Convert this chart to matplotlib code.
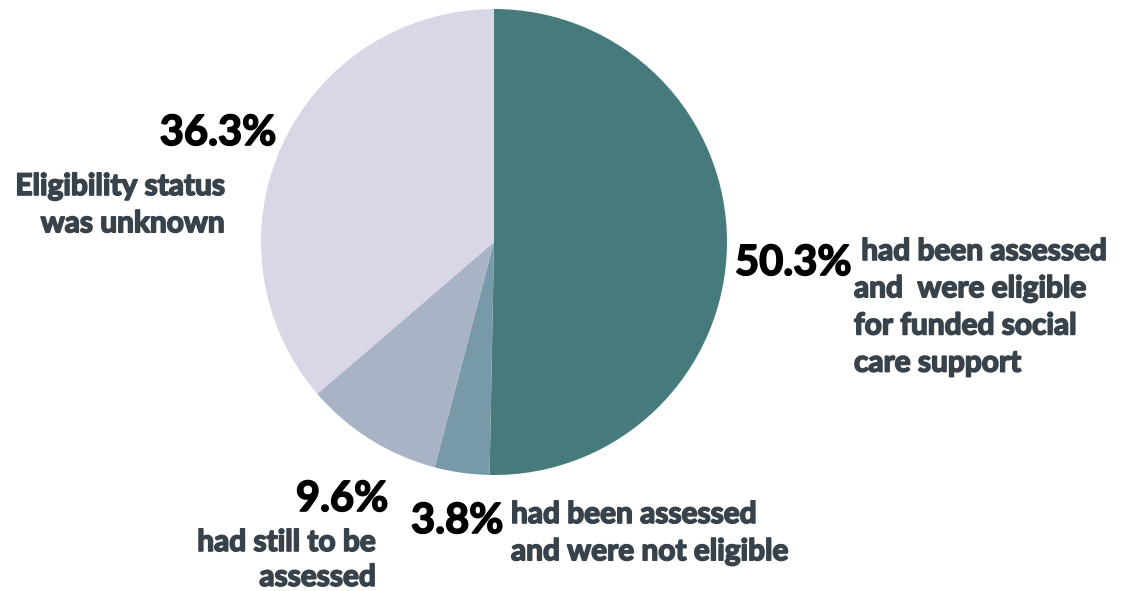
import matplotlib.pyplot as plt
import matplotlib.patheffects as pe
from matplotlib import font_manager

# Eligibility breakdown, clockwise from 12 o'clock
shares = [50.3, 3.8, 9.6, 36.3]
pct_labels = ["50.3%", "3.8%", "9.6%", "36.3%"]
descriptions = [
    " had been assessed\nand  were eligible\nfor funded social\ncare support",
    "had been assessed\nand were not eligible",
    "had still to be\nassessed",
    "Eligibility status\nwas unknown",
]
colors = ["#467A7B", "#7899A7", "#A8B3C5", "#D9D7E5"]

W, H = 1129, 591
fig = plt.figure(figsize=(W / 100, H / 100), dpi=100)
fig.patch.set_facecolor("white")

# pie axes placed in pixel terms: circle spans x 261..727, y 9..475
ax = fig.add_axes([261 / W, 1 - 475 / H, 466 / W, 466 / H])
ax.pie(shares, colors=colors, startangle=90, counterclock=False,
       wedgeprops=dict(linewidth=0))
ax.set_xlim(-1, 1)
ax.set_ylim(-1, 1)
ax.set_aspect("equal")
ax.axis("off")

names = {f.name for f in font_manager.fontManager.ttflist}
family = ["Lato", "DejaVu Sans"] if "Lato" in names else ["DejaVu Sans"]
txt_color = "#37424B"


def put(x, y, s, thick, **kw):
    t = fig.text(x / W, 1 - y / H, s, family=family, **kw)
    # slightly heavier strokes than the plain bold face
    t.set_path_effects([pe.withStroke(linewidth=thick, foreground=kw["color"])])


big = dict(fontsize=30, fontweight="bold", color="black", va="center")
body = dict(fontsize=21.5, fontweight="bold", color=txt_color,
            linespacing=1.4)

# 50.3%
put(735, 263, pct_labels[0], 1.2, ha="left", **big)
put(854, 237, descriptions[0], 1.2, ha="left", va="top", **body)

# 3.8%
put(411, 521, pct_labels[1], 1.2, ha="left", **big)
put(511, 500, descriptions[1], 1.2, ha="left", va="top", **body)

# 9.6%
put(388, 499, pct_labels[2], 1.2, ha="right", **big)
put(376, 528, descriptions[2], 1.2, ha="right", va="top",
    multialignment="right", linespacing=1.3,
    **{k: v for k, v in body.items() if k != "linespacing"})

# 36.3%
put(276, 133, pct_labels[3], 1.2, ha="right", **big)
put(225, 172, descriptions[3], 1.2, ha="right", va="top",
    multialignment="right", **body)

fig.savefig("out.png", dpi=100)
